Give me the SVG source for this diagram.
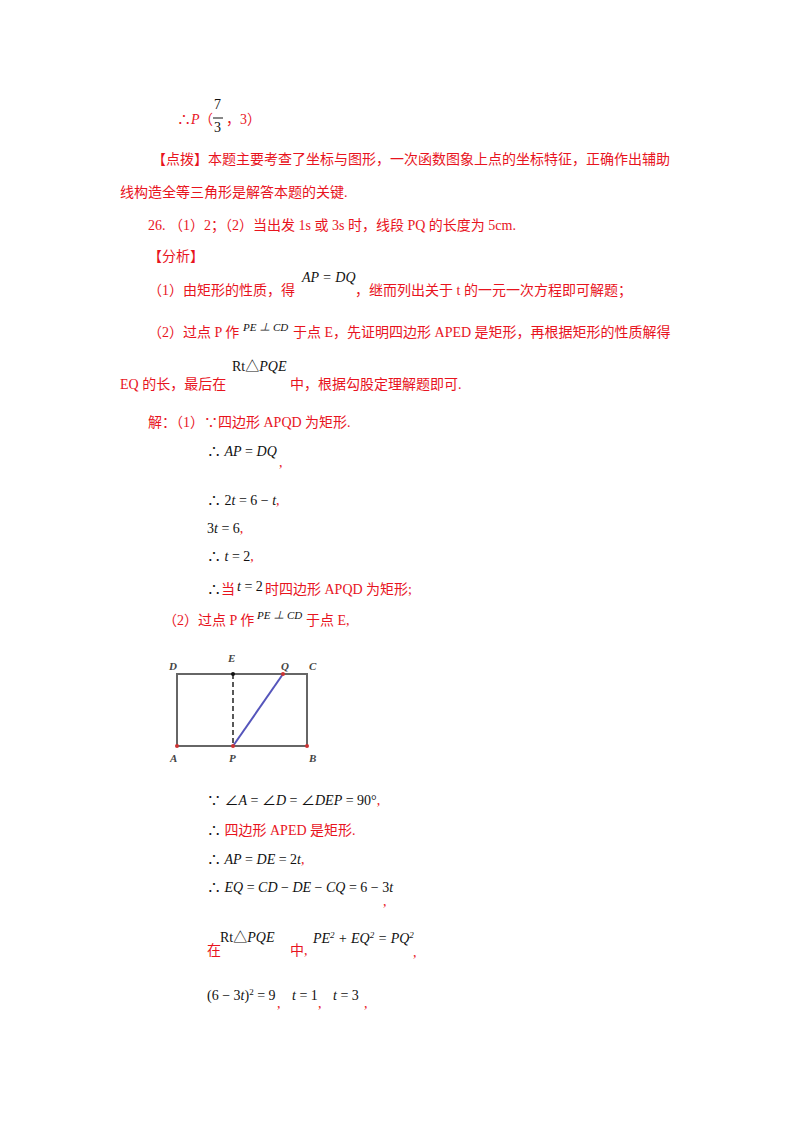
<svg xmlns="http://www.w3.org/2000/svg" width="800" height="1132" viewBox="0 0 800 1132">
<style>
text{font-family:"Liberation Serif","Noto Sans CJK SC",serif;font-size:14px}
.r{fill:#e8141e}
.k{fill:#111}
.i{font-style:italic}
.s{font-size:11px}
.lb{font-family:"Liberation Serif",serif;font-style:italic;font-weight:bold;font-size:11px;fill:#444}
</style>
<rect width="800" height="1132" fill="#fff"/>
<text x="177" y="124" class="r">∴<tspan class="i">P</tspan></text>
<text x="199" y="124" class="r">（</text>
<text x="214" y="109" class="k">7</text>
<line x1="213" y1="118" x2="223" y2="118" stroke="#111"/>
<text x="214" y="132" class="k">3</text>
<text x="226" y="124" class="r">，3）</text>
<text x="152" y="164" class="r">【点拨】本题主要考查了坐标与图形，一次函数图象上点的坐标特征，正确作出辅助</text>
<text x="120" y="197" class="r">线构造全等三角形是解答本题的关键.</text>
<text x="148" y="230" class="r">26. （1）2；（2）当出发 1s 或 3s 时，线段 PQ 的长度为 5cm.</text>
<text x="148" y="261" class="r">【分析】</text>
<text x="148" y="295" class="r">（1）由矩形的性质，得</text>
<text x="302" y="282" class="k i">AP = DQ</text>
<text x="355" y="295" class="r">，继而列出关于 t 的一元一次方程即可解题；</text>
<text x="148" y="337" class="r">（2）过点 P 作</text>
<text x="243" y="331" class="k i s">PE ⊥ CD</text>
<text x="293" y="337" class="r">于点 E，先证明四边形 APED 是矩形，再根据矩形的性质解得</text>
<text x="120" y="389" class="r">EQ 的长，最后在</text>
<text x="232" y="371" class="k">Rt△<tspan class="i">PQE</tspan></text>
<text x="290" y="389" class="r">中，根据勾股定理解题即可.</text>
<text x="148" y="427" class="r">解：（1）∵四边形 APQD 为矩形.</text>
<text x="207" y="456" class="k">∴ <tspan class="i">AP</tspan> = <tspan class="i">DQ</tspan></text>
<text x="279" y="467" class="r">,</text>
<text x="207" y="505" class="k">∴ 2<tspan class="i">t</tspan> = 6 − <tspan class="i">t</tspan><tspan class="r">,</tspan></text>
<text x="207" y="533" class="k">3<tspan class="i">t</tspan> = 6<tspan class="r">,</tspan></text>
<text x="207" y="561" class="k">∴ <tspan class="i">t</tspan> = 2<tspan class="r">,</tspan></text>
<text x="207" y="594" class="k">∴<tspan class="r">当</tspan></text>
<text x="237" y="591" class="k i">t<tspan font-style="normal"> = 2</tspan></text>
<text x="265" y="594" class="r">时四边形 APQD 为矩形;</text>
<text x="163" y="625" class="r">（2）过点 P 作</text>
<text x="257" y="619" class="k i s">PE ⊥ CD</text>
<text x="306" y="625" class="r">于点 E,</text>
<g id="figure">
<rect x="177" y="674" width="130" height="72" fill="none" stroke="#666" stroke-width="2"/>
<line x1="233" y1="674" x2="233" y2="746" stroke="#222" stroke-width="1.5" stroke-dasharray="5,3"/>
<line x1="233" y1="746" x2="283" y2="674" stroke="#5555bb" stroke-width="2"/>
<circle cx="233" cy="674" r="2" fill="#111"/>
<circle cx="233" cy="746" r="2" fill="#c33"/>
<circle cx="283" cy="674" r="2" fill="#c33"/>
<circle cx="177" cy="746" r="2" fill="#c33"/>
<circle cx="307" cy="746" r="2" fill="#c33"/>
<text x="169" y="670" class="lb">D</text>
<text x="228" y="662" class="lb">E</text>
<text x="281" y="670" class="lb">Q</text>
<text x="309" y="670" class="lb">C</text>
<text x="170" y="762" class="lb">A</text>
<text x="229" y="762" class="lb">P</text>
<text x="309" y="762" class="lb">B</text>
</g>
<text x="207" y="805" class="k">∵ ∠<tspan class="i">A</tspan> = ∠<tspan class="i">D</tspan> = ∠<tspan class="i">DEP</tspan> = 90°<tspan class="r">,</tspan></text>
<text x="207" y="835" class="k">∴<tspan class="r"> 四边形 APED 是矩形.</tspan></text>
<text x="207" y="864" class="k">∴ <tspan class="i">AP</tspan> = <tspan class="i">DE</tspan> = 2<tspan class="i">t</tspan><tspan class="r">,</tspan></text>
<text x="207" y="892" class="k">∴ <tspan class="i">EQ</tspan> = <tspan class="i">CD</tspan> − <tspan class="i">DE</tspan> − <tspan class="i">CQ</tspan> = 6 − 3<tspan class="i">t</tspan></text>
<text x="383" y="906" class="r">,</text>
<text x="207" y="955" class="r">在</text>
<text x="220" y="942" class="k">Rt△<tspan class="i">PQE</tspan></text>
<text x="290" y="955" class="r">中,</text>
<text x="313" y="943" class="k i">PE<tspan font-size="9" dy="-5">2</tspan><tspan dy="5"> + EQ</tspan><tspan font-size="9" dy="-5">2</tspan><tspan dy="5"> = PQ</tspan><tspan font-size="9" dy="-5">2</tspan></text>
<text x="413" y="957" class="r">,</text>
<text x="207" y="1000" class="k">(6 − 3<tspan class="i">t</tspan>)<tspan font-size="9" dy="-5">2</tspan><tspan dy="5"> = 9</tspan></text>
<text x="277" y="1008" class="r">,</text>
<text x="292" y="1000" class="k i">t<tspan font-style="normal"> = 1</tspan></text>
<text x="318" y="1008" class="r">,</text>
<text x="333" y="1000" class="k i">t<tspan font-style="normal"> = 3</tspan></text>
<text x="364" y="1008" class="r">,</text>
</svg>
